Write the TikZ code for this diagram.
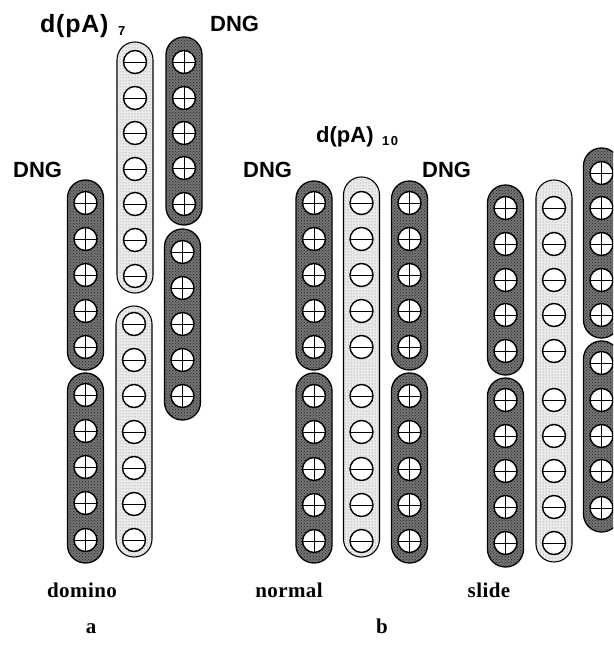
\documentclass[tikz,border=0pt]{standalone}
\usepackage{fontspec}
\setmainfont{Liberation Serif}
\setsansfont{Liberation Sans}
\usetikzlibrary{patterns}

\tikzset{
  dngbody/.style={draw=black, line width=1.3pt, fill=black!55,
    postaction={pattern=crosshatch dots, pattern color=black!85}},
  pabody/.style={draw=black, line width=1.1pt, fill=black!8,
    postaction={pattern=dots, pattern color=black!50}},
  hole/.style={draw=black, line width=1.4pt, fill=white},
  bar/.style={draw=black, line width=0.9pt},
  sflab/.style={font=\sffamily\bfseries\fontsize{22}{24}\selectfont, inner sep=0pt, anchor=base west},
  sfsub/.style={font=\sffamily\bfseries\fontsize{13}{15}\selectfont\addfontfeature{LetterSpace=12},
    inner sep=0pt, anchor=base west},
  rmlab/.style={font=\rmfamily\bfseries\fontsize{21}{23}\selectfont\addfontfeature{LetterSpace=2},
    inner sep=0pt, anchor=base},
}

% DNG strand: x centre, top, bottom, list of ring centres (rings with a cross)
\newcommand\dngstrand[4]{%
  \path[dngbody, rounded corners=17.9pt] (#1-18,#2) rectangle (#1+18,#3);
  \foreach \cy in {#4}{%
    \draw[hole] (#1,\cy) circle[radius=11.5];
    \draw[bar] (#1-11.5,\cy) -- (#1+11.5,\cy) (#1,\cy-11.5) -- (#1,\cy+11.5);
  }}
% d(pA) strand: rings with a single horizontal bar
\newcommand\pastrand[4]{%
  \path[pabody, rounded corners=17.9pt] (#1-18,#2) rectangle (#1+18,#3);
  \foreach \cy in {#4}{%
    \draw[hole] (#1,\cy) circle[radius=11.5];
    \draw[bar] (#1-11.5,\cy) -- (#1+11.5,\cy);
  }}

\begin{document}
\begin{tikzpicture}[x=1pt, y=-1pt]
\useasboundingbox (0,0) rectangle (613,663);
\fill[white] (0,0) rectangle (613,663);
\clip (0,0) rectangle (613,663);

% ---- a: domino ----
\dngstrand{85.5}{180}{370}{203,239,275,311,347}
\dngstrand{85.5}{373}{563}{395,431,467,503,540}
\pastrand{135}{42}{293}{62,98,133,169,204,240,276}
\pastrand{134}{306}{557}{324,360,396,432,468,504,540}
\dngstrand{184}{37}{225}{62,98,133,168,204}
\dngstrand{182.5}{229}{420}{252,288,324,360,396}

% ---- b: normal ----
\dngstrand{314}{181}{370}{203,239,275,311,347}
\dngstrand{314}{373}{563}{396,432,469,505,541}
\pastrand{361.5}{177}{557}{203,239,275,311,347,396,432,469,505,541}
\dngstrand{409.5}{181}{370}{203,239,275,311,347}
\dngstrand{409.5}{373}{563}{396,432,469,505,541}

% ---- b: slide ----
\dngstrand{505.5}{185}{375}{208,244,280,315,351}
\dngstrand{505.5}{378}{567}{400,436,471,507,543}
\pastrand{554}{180}{562}{208,244,280,315,351,400,436,471,507,543}
\dngstrand{601.5}{148}{338}{173,208,244,280,315}
\dngstrand{601.5}{341}{532}{363,400,436,471,508}

% ---- labels ----
\node[sflab, font=\sffamily\bfseries\fontsize{25}{27}\selectfont\addfontfeature{LetterSpace=3}]
  (pa7) at (40,33) {d(pA)};
\node[sfsub] (pa7n) at (118,36) {7};
\node[sflab] (dngat) at (210,32) {DNG};
\node[sflab] (dngal) at (13,177) {DNG};

\node[sflab] (pa10) at (316,143) {d(pA)};
\node[sfsub] (pa10n) at (382,146) {10};
\node[sflab] (dngbl) at (243,178) {DNG};
\node[sflab] (dngbr) at (422,178) {DNG};

\node[rmlab] (domino) at (82,597) {domino};
\node[rmlab] (normal) at (289,597) {normal};
\node[rmlab] (slide) at (489,597) {slide};
\node[rmlab] (pana) at (91,633) {a};
\node[rmlab] (panb) at (382,633) {b};
\end{tikzpicture}
\end{document}
